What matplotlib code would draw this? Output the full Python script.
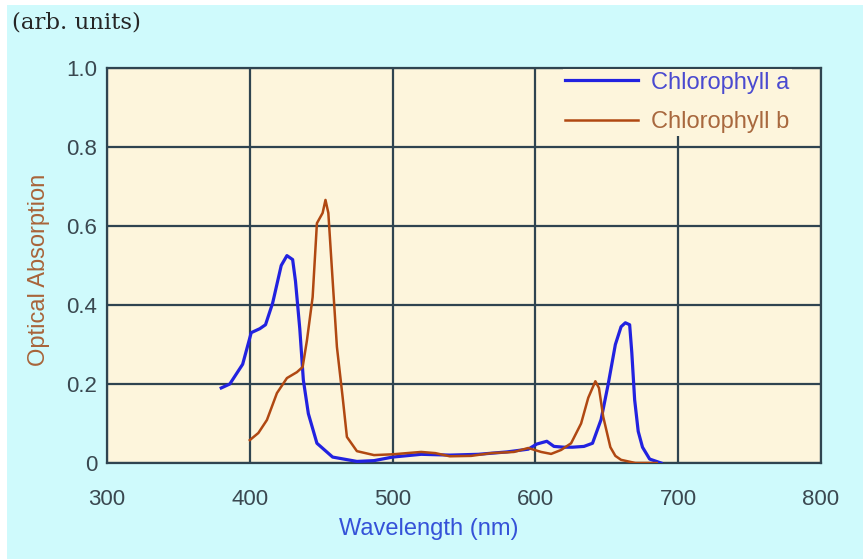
import matplotlib
matplotlib.use('Agg')
import matplotlib.pyplot as plt
from matplotlib.patches import Rectangle

# Chlorophyll a (blue)
wl_a = [380, 386, 395, 401, 407, 411, 416, 422, 426, 430, 432, 435, 437.5, 441,
        447, 458, 475, 487, 500, 520, 540, 560, 580, 595, 601, 608, 613, 620,
        626, 634, 640, 646, 651, 656, 660, 663, 666, 667.5, 669.5, 672, 675,
        680, 688]
abs_a = [0.19, 0.20, 0.25, 0.33, 0.34, 0.35, 0.405, 0.50, 0.525, 0.515, 0.46,
         0.34, 0.21, 0.125, 0.05, 0.015, 0.004, 0.006, 0.015, 0.022, 0.02,
         0.022, 0.028, 0.035, 0.048, 0.055, 0.042, 0.04, 0.04, 0.042, 0.05,
         0.11, 0.2, 0.30, 0.345, 0.355, 0.35, 0.28, 0.16, 0.08, 0.04, 0.01, 0.0]

# Chlorophyll b (brown)
wl_b = [400, 406, 412, 419, 426, 433, 437, 440, 444, 447, 451, 453, 455, 458,
        461, 465, 468, 475, 481, 487, 500, 510, 520, 530, 540, 555, 569, 585,
        595, 604, 611, 618, 625, 632, 637, 642, 644.5, 647.5, 652.5, 656, 660,
        670, 685]
abs_b = [0.058, 0.076, 0.109, 0.177, 0.215, 0.23, 0.243, 0.31, 0.42, 0.607,
         0.633, 0.666, 0.633, 0.463, 0.294, 0.167, 0.066, 0.03, 0.025, 0.02,
         0.022, 0.025, 0.028, 0.025, 0.017, 0.018, 0.025, 0.028, 0.038, 0.028,
         0.023, 0.033, 0.05, 0.1, 0.165, 0.207, 0.19, 0.117, 0.04, 0.018,
         0.008, 0.0, 0.0]

x_ticks = [300, 400, 500, 600, 700, 800]
y_ticks = [0, 0.2, 0.4, 0.6, 0.8, 1.0]
y_tick_labels = ['0', '0.2', '0.4', '0.6', '0.8', '1.0']

plt.rcParams['font.family'] = ['Liberation Sans', 'DejaVu Sans']

W, H = 863, 559
bg = '#cffafc'
face = '#fdf5dc'
grid_c = '#2f4450'
tick_c = '#3a4850'

fig = plt.figure(figsize=(W / 100, H / 100), dpi=100, facecolor=bg)
# white margin on top and left like the screenshot
fig.add_artist(Rectangle((0, 1 - 5 / H), 1, 5 / H, transform=fig.transFigure,
                         facecolor='white', edgecolor='none'))
fig.add_artist(Rectangle((0, 0), 7 / W, 1, transform=fig.transFigure,
                         facecolor='white', edgecolor='none'))

ax = fig.add_axes([107 / W, 1 - 463 / H, (821 - 107) / W, (463 - 68) / H])
ax.set_facecolor(face)

ax.plot(wl_a, abs_a, color='#2222e0', lw=2.3, label='Chlorophyll a', zorder=3)
ax.plot(wl_b, abs_b, color='#b04812', lw=1.8, label='Chlorophyll b', zorder=3)

ax.set_xlim(300, 800)
ax.set_ylim(0, 1.0)
ax.set_xticks(x_ticks)
ax.set_yticks(y_ticks)
ax.set_yticklabels(y_tick_labels)
ax.grid(True, color=grid_c, lw=1.6)
ax.set_axisbelow(True)
for s in ax.spines.values():
    s.set_color(grid_c)
    s.set_linewidth(1.6)

ax.tick_params(axis='both', length=0, labelsize=16, labelcolor=tick_c)
ax.tick_params(axis='x', pad=19)
ax.tick_params(axis='y', pad=7)

ax.set_xlabel('Wavelength (nm)', color='#3552d8', fontsize=17)
ax.xaxis.set_label_coords((429 - 107) / 714, (463 - 518) / 395)
ax.set_ylabel('Optical Absorption', color='#a8643a', fontsize=17)
ax.yaxis.set_label_coords((50 - 107) / 714, (463 - 270) / 395)

leg = ax.legend(loc='upper left', bbox_to_anchor=(0.638, 0.997), fontsize=17,
                handlelength=3.1, handletextpad=0.55, labelspacing=0.75,
                borderpad=0.1, borderaxespad=0, fancybox=False,
                facecolor=face, edgecolor='none', framealpha=1,
                labelcolor=['#4a4ad0', '#a8683e'])

fig.text(12 / W, 1 - 23 / H, '(arb. units)', family='DejaVu Serif',
         fontsize=16.5, color='#262626', va='center', ha='left')

fig.savefig('out.png', dpi=100, facecolor=bg)
